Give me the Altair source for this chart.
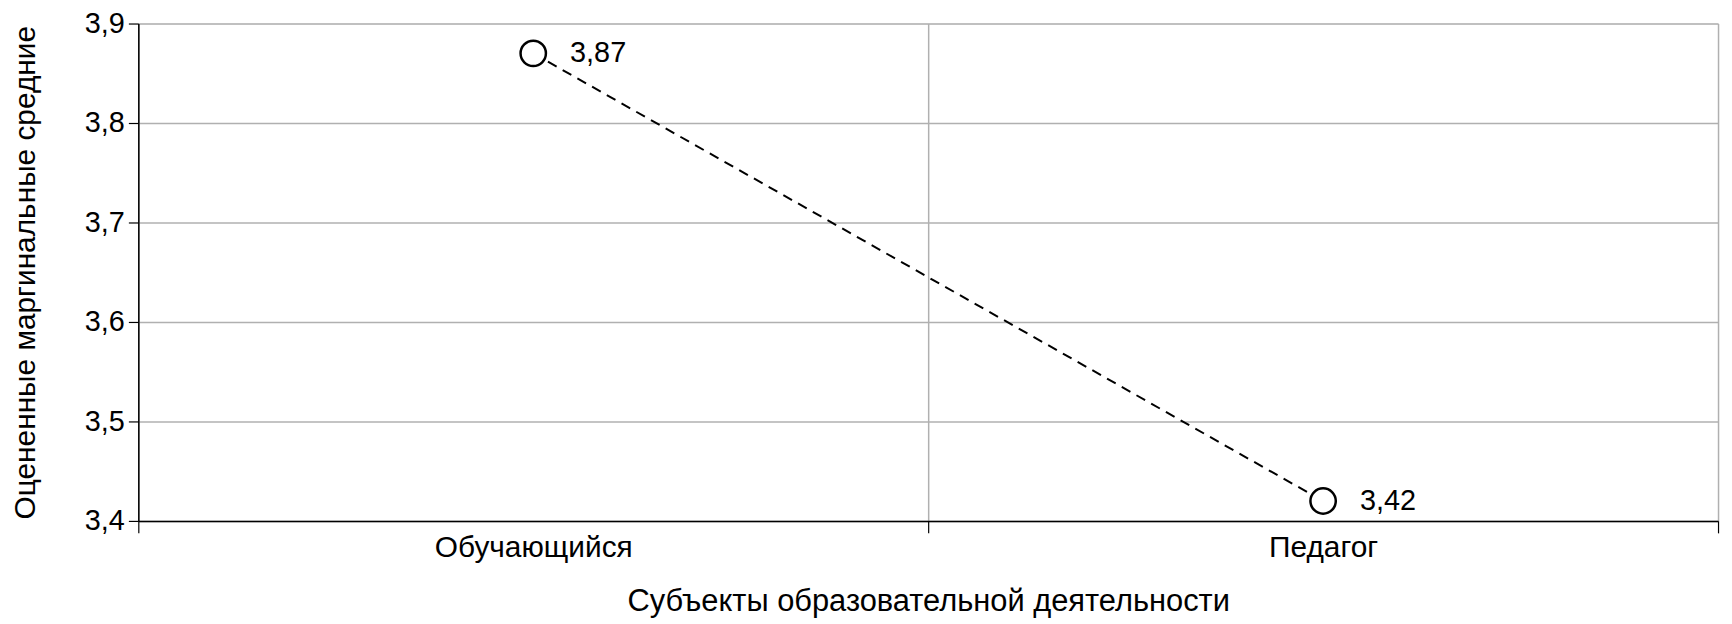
import altair as alt
import pandas as pd

categories = ["Обучающийся", "Педагог"]
values = [3.87, 3.42]
labels = [f"{v:.2f}".replace(".", ",") for v in values]

df = pd.DataFrame({"cat": categories, "val": values, "lab": labels})

FONT = "Liberation Sans"
W = 1588
H = 500

x_enc = alt.X(
    "cat:N",
    sort=categories,
    scale=alt.Scale(paddingInner=0, paddingOuter=0),
    axis=alt.Axis(
        title="Субъекты образовательной деятельности",
        labelAngle=0,
        labelLimit=500,
        tickBand="extent",
        grid=True,
        gridColor="#b0b0b0",
        gridWidth=1.5,
        domainColor="#000000",
        domainWidth=1.5,
        tickColor="#000000",
        tickWidth=1.2,
        tickSize=12,
        labelPadding=15,
        labelBaseline="middle",
        labelFont=FONT,
        labelFontSize=30,
        labelColor="#000000",
        titleFont=FONT,
        titleFontSize=31,
        titleFontWeight="normal",
        titleColor="#000000",
        titleX=W / 2,
        titleY=81,
        titleBaseline="middle",
        titleAlign="center",
    ),
)

y_enc = alt.Y(
    "val:Q",
    scale=alt.Scale(domain=[3.4, 3.9], nice=False, zero=False),
    axis=alt.Axis(
        title="Оцененные маргинальные средние",
        values=[3.4, 3.5, 3.6, 3.7, 3.8, 3.9],
        labelExpr="replace(format(datum.value, '.1f'), '.', ',')",
        grid=True,
        gridColor="#b0b0b0",
        gridWidth=1.5,
        domainColor="#000000",
        domainWidth=1.5,
        tickColor="#000000",
        tickWidth=1.2,
        tickSize=10,
        labelPadding=4,
        labelFont=FONT,
        labelFontSize=29,
        labelColor="#000000",
        labelBaseline="middle",
        titleFont=FONT,
        titleFontSize=30,
        titleFontWeight="normal",
        titleColor="#000000",
        titleAngle=-90,
        titleX=-113,
        titleY=H / 2,
        titleBaseline="middle",
        titleAlign="center",
    ),
)

base = alt.Chart(df)

line = base.mark_line(
    color="#000000", strokeWidth=2, strokeDash=[10, 7]
).encode(x=x_enc, y=y_enc)

points = base.mark_point(
    shape="circle", filled=False, fill="#ffffff", fillOpacity=1,
    stroke="#000000", strokeWidth=2.5, size=650, opacity=1
).encode(x=x_enc, y=y_enc)

text = base.mark_text(
    align="left", baseline="middle", dx=37, font=FONT, fontSize=29, color="#000000"
).encode(x=x_enc, y=y_enc, text="lab:N")

chart = (line + points + text).properties(
    width=W,
    height=H,
    autosize=alt.AutoSizeParams(type="none"),
    padding={"left": 131, "top": 14, "right": 6, "bottom": 100},
).configure_view(stroke=None).configure(background="#ffffff")

chart.save("out.html", embed_options={"renderer": "svg", "actions": False})
